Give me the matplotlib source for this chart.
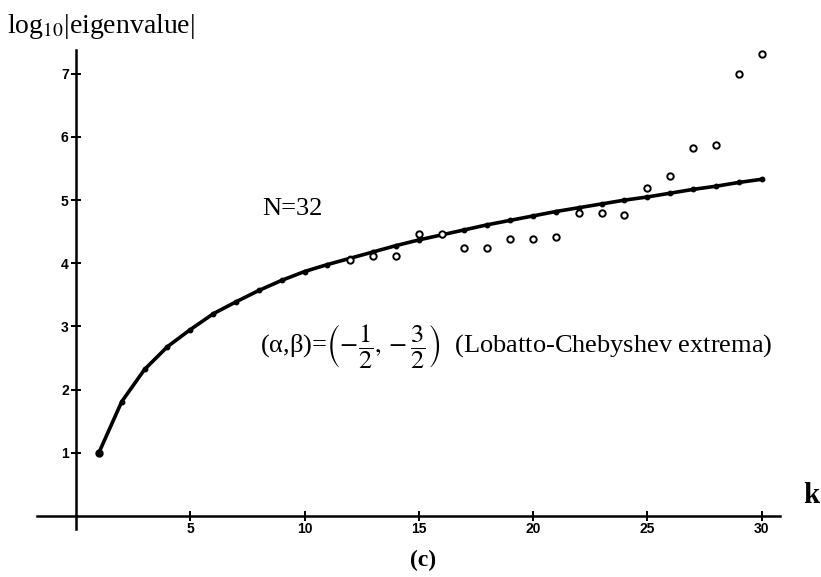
import numpy as np
import matplotlib
matplotlib.use("Agg")
import matplotlib.pyplot as plt

plt.rcParams['font.family'] = ['Liberation Serif', 'DejaVu Serif']
plt.rcParams['mathtext.fontset'] = 'stix'

# curve (solid line with dots), k = 1..30
k_line = np.arange(1, 31)
log_eig_line = [1.00, 1.81, 2.32, 2.68, 2.95, 3.20, 3.39, 3.57, 3.73, 3.87,
                3.98, 4.08, 4.18, 4.28, 4.37, 4.45, 4.53, 4.61, 4.68, 4.75,
                4.82, 4.88, 4.94, 5.00, 5.05, 5.11, 5.17, 5.22, 5.28, 5.33]

# open circles, k = 12..30
k_pts = np.arange(12, 31)
log_eig_pts = [4.06, 4.11, 4.11, 4.46, 4.46, 4.24, 4.24, 4.38, 4.38, 4.41,
               4.79, 4.79, 4.76, 5.20, 5.38, 5.82, 5.87, 7.00, 7.32]

xticks = [5, 10, 15, 20, 25, 30]
yticks = [1, 2, 3, 4, 5, 6, 7]

W, H = 821, 577
x0, sx = 76, 22.85   # pixel of k=0, pixels per unit
y0, sy = 516, 63.17  # pixel of y=0, pixels per unit

fig = plt.figure(figsize=(W / 100, H / 100), dpi=100)
ax = fig.add_axes([0, 0, 1, 1])
ax.set_xlim(-x0 / sx, (W - x0) / sx)
ax.set_ylim(-(H - y0) / sy, y0 / sy)

ax.plot(k_line, log_eig_line, color='black', lw=2.6, marker='o', ms=3.2,
        solid_capstyle='round', zorder=3)
ax.plot(k_line[:1], log_eig_line[:1], ls='none', marker='o', ms=5,
        color='black', zorder=3)
ax.plot(k_pts, log_eig_pts, ls='none', marker='o', ms=4.6, mfc='white',
        mec='black', mew=1.4, zorder=4)

for side in ['top', 'right']:
    ax.spines[side].set_visible(False)
ax.spines['left'].set_position(('data', 0))
ax.spines['bottom'].set_position(('data', 0))
ax.spines['left'].set_bounds(-0.2, 7.38)
ax.spines['bottom'].set_bounds(-1.7, 30.8)
for side in ['left', 'bottom']:
    ax.spines[side].set_linewidth(1.8)
ax.patch.set_visible(False)

ax.set_xticks(xticks)
ax.set_yticks(yticks)
ax.tick_params(direction='inout', length=7.5, width=1.4, labelsize=10)
ax.tick_params(axis='x', pad=0.5)
ax.tick_params(axis='y', pad=1.5)
for lab in ax.get_xticklabels() + ax.get_yticklabels():
    lab.set_fontfamily('Liberation Sans')
    lab.set_fontweight('bold')


def fx(px):
    return px / W


def fy(py):
    return 1 - py / H


fig.text(fx(7), fy(33), 'log$_{10}$|eigenvalue|', fontsize=20, va='baseline')
fig.text(fx(262), fy(215), 'N=32', fontsize=19, va='baseline')
fig.text(fx(260), fy(353),
         r'(α,β)=$\left(-\dfrac{1}{2}, -\dfrac{3}{2}\right)$  (Lobatto-Chebyshev extrema)',
         fontsize=19, va='baseline')
fig.text(fx(803), fy(503), 'k', fontsize=21, fontweight='bold', va='baseline')
fig.text(fx(423), fy(560), '(c)', fontsize=17, fontweight='bold',
         ha='center', va='center')

plt.savefig('out.png', dpi=100)
